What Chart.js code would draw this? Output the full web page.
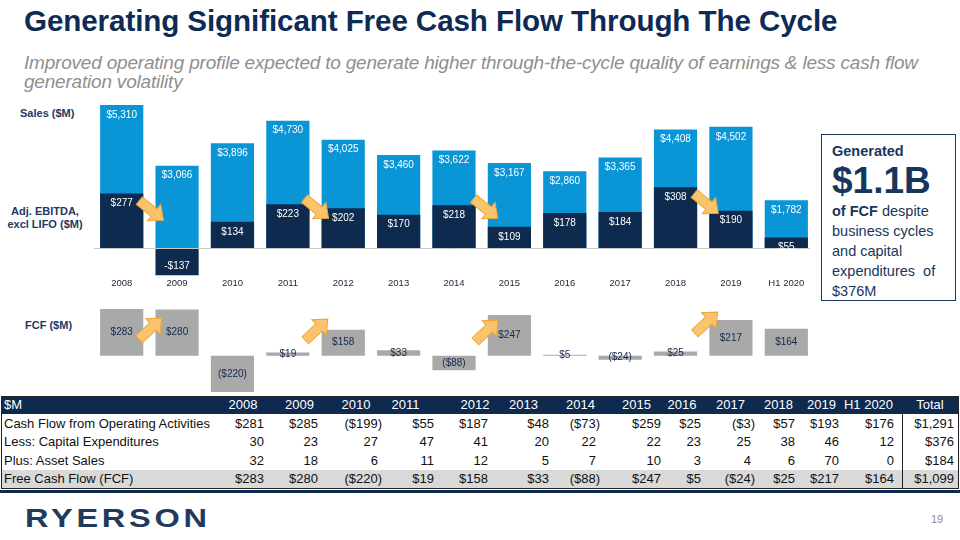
<!DOCTYPE html>
<html>
<head>
<meta charset="utf-8">
<script src="https://cdn.jsdelivr.net/npm/chart.js@4"></script>
<style>
  body { margin: 0; width: 960px; height: 540px; position: relative; background: #fff; font-family: Arial, 'Liberation Sans', sans-serif; overflow: hidden; }
  .abs { position: absolute; }
  #title { left: 24px; top: 4px; font-size: 29.6px; font-weight: bold; color: #0d2b55; white-space: nowrap; letter-spacing: -0.1px; }
  #sub { left: 24px; top: 53px; width: 935px; font-size: 19px; font-style: italic; color: #8f8f8f; line-height: 19px; letter-spacing: -0.2px; }
  .side { color: #1f3864; font-weight: bold; font-size: 11px; text-align: center; line-height: 13px; }
  #box { left: 821px; top: 134px; width: 133px; height: 165px; border: 1px solid #1f3864; color: #17365d; font-size: 14.5px; line-height: 20px; }
  #box div { padding-left: 10px; }
  #tbl { left: 1px; top: 396px; width: 956px; height: 91px; border: 1px solid #222; }
  .cell { position: absolute; font-size: 13px; color: #111; white-space: nowrap; line-height: 18px; }
  #logo { left: 25px; top: 503px; font-size: 26px; font-weight: bold; color: #1f3a5c; letter-spacing: 3px; transform: scaleX(1.25); transform-origin: left top; }
</style>
</head>
<body>
<div class="abs" id="title">Generating Significant Free Cash Flow Through The Cycle</div>
<div class="abs" id="sub">Improved operating profile expected to generate higher through-the-cycle quality of earnings &amp; less cash flow generation volatility</div>

<div class="abs side" style="left:20px; top:107px;">Sales ($M)</div>
<div class="abs side" style="left:4px; top:205px; width:82px;">Adj. EBITDA,<br>excl LIFO ($M)</div>
<div class="abs side" style="left:25px; top:319px;">FCF ($M)</div>

<canvas class="abs" id="top" width="720" height="191" style="left:94px; top:100px;"></canvas>
<canvas class="abs" id="fcf" width="720" height="95" style="left:94px; top:300px;"></canvas>

<div class="abs" id="box">
  <div style="font-weight:bold; margin-top:6px;">Generated</div>
  <div style="font-weight:bold; font-size:37px; line-height:40px;">$1.1B</div>
  <div><b>of FCF</b> despite business cycles and capital expenditures&nbsp; of $376M</div>
</div>

<div class="abs" id="tbl"></div>
<div class="abs" style="left:0; top:490px; width:960px; height:3px; background:#0e2a4f;"></div>
<div class="abs" id="logo">RYERSON</div>
<div class="abs" style="left:931px; top:513px; font-size:11px; color:#8c8c8c;">19</div>

<script>
const years = ['2008', '2009', '2010', '2011', '2012', '2013', '2014', '2015', '2016', '2017', '2018', '2019', 'H1 2020']
const sales = [5310, 3066, 3896, 4730, 4025, 3460, 3622, 3167, 2860, 3365, 4408, 4502, 1782]
const ebitda = [277, -137, 134, 223, 202, 170, 218, 109, 178, 184, 308, 190, 55]
const fcf = [283, 280, -220, 19, 158, 33, -88, 247, 5, -24, 25, 217, 164]
const cfo = [281, 285, -199, 55, 187, 48, -73, 259, 25, -3, 57, 193, 176]
const capex = [30, 23, 27, 47, 41, 20, 22, 22, 23, 25, 38, 46, 12]
const assetSales = [32, 18, 6, 11, 12, 5, 7, 10, 3, 4, 6, 70, 0]
const rowLabels = ['Cash Flow from Operating Activities', 'Less: Capital Expenditures', 'Plus: Asset Sales', 'Free Cash Flow (FCF)']
const totals = ['$1,291', '$376', '$184', '$1,099']

const money = (v) => (v < 0 ? '($' + Math.abs(v).toLocaleString('en-US') + ')' : '$' + v.toLocaleString('en-US'))

function drawArrow(ctx, cx, cy, angle) {
  const L = 31, h = 12, w = 4.8, H = 10.5
  ctx.save()
  ctx.translate(cx, cy)
  ctx.rotate(angle)
  ctx.beginPath()
  ctx.moveTo(-L / 2, -w)
  ctx.lineTo(L / 2 - h, -w)
  ctx.lineTo(L / 2 - h, -H)
  ctx.lineTo(L / 2, 0)
  ctx.lineTo(L / 2 - h, H)
  ctx.lineTo(L / 2 - h, w)
  ctx.lineTo(-L / 2, w)
  ctx.closePath()
  ctx.fillStyle = '#f9c46b'
  ctx.fill()
  ctx.strokeStyle = '#eea738'
  ctx.lineWidth = 1
  ctx.stroke()
  ctx.restore()
}

// bar labels, zero line and the orange arrows
const decorate = {
  id: 'decorate',
  afterDatasetsDraw(chart, args, opts) {
    const ctx = chart.ctx
    const x = chart.scales.x
    const zeroY = chart.scales[opts.zeroAxis].getPixelForValue(0)
    if (opts.zeroLine) {
      ctx.save()
      ctx.strokeStyle = '#c9c9c9'
      ctx.lineWidth = 1
      ctx.beginPath()
      ctx.moveTo(chart.chartArea.left - 4, Math.round(zeroY) + 0.5)
      ctx.lineTo(chart.chartArea.right - 4, Math.round(zeroY) + 0.5)
      ctx.stroke()
      ctx.restore()
    }
    ctx.save()
    ctx.font = '10px Arial'
    ctx.textAlign = 'center'
    ctx.textBaseline = 'middle'
    chart.data.datasets.forEach((ds, di) => {
      const meta = chart.getDatasetMeta(di)
      meta.data.forEach((bar, i) => {
        const v = ds.data[i]
        let y
        if (opts.mode === 'center') y = (bar.y + bar.base) / 2
        else y = v >= 0 ? bar.y + 10 : bar.y - 9
        ctx.fillStyle = opts.color
        const txt = opts.mode === 'center' ? money(v) : (v < 0 ? '-$' + Math.abs(v) : money(v))
        ctx.fillText(txt, bar.x, y)
      })
    })
    ctx.restore()
    opts.arrows.forEach((a) => {
      const cx = (x.getPixelForValue(a.i) + x.getPixelForValue(a.i + 1)) / 2 + a.dx
      drawArrow(ctx, cx, zeroY + a.dy, opts.angle)
    })
  },
}

const barBase = { grouped: false, barPercentage: 0.78, categoryPercentage: 1 }

new Chart(document.getElementById('top'), {
  type: 'bar',
  data: {
    labels: years,
    datasets: [
      { ...barBase, label: 'Adj. EBITDA', data: ebitda, yAxisID: 'y2', backgroundColor: '#0e2a4f', order: 0 },
      { ...barBase, label: 'Sales', data: sales, yAxisID: 'y', backgroundColor: '#0a96d6', order: 1 },
    ],
  },
  plugins: [decorate],
  options: {
    responsive: false,
    animation: false,
    layout: { padding: 0 },
    plugins: {
      legend: { display: false },
      tooltip: { enabled: false },
      decorate: {
        zeroAxis: 'y', zeroLine: true, mode: 'top', color: '#ffffff', angle: 0.68,
        arrows: [{ i: 0, dx: 2, dy: -38 }, { i: 3, dx: 1, dy: -40 }, { i: 6, dx: 4, dy: -40 }, { i: 10, dx: 3, dy: -45 }],
      },
    },
    scales: {
      x: {
        grid: { display: false, drawTicks: false },
        border: { display: false },
        ticks: { padding: 2, color: '#1b2436', font: { family: 'Arial', size: 9.5 } },
      },
      y: { display: false, min: -1005, max: 5496 },
      y2: { display: false, min: -137.5, max: 749 },
    },
  },
})

new Chart(document.getElementById('fcf'), {
  type: 'bar',
  data: {
    labels: years,
    datasets: [{ ...barBase, label: 'FCF', data: fcf, backgroundColor: '#a9a9a9' }],
  },
  plugins: [decorate],
  options: {
    responsive: false,
    animation: false,
    layout: { padding: 0 },
    plugins: {
      legend: { display: false },
      tooltip: { enabled: false },
      decorate: {
        zeroAxis: 'y', zeroLine: false, mode: 'center', color: '#13294b', angle: -0.75,
        arrows: [{ i: 0, dx: 1, dy: -27 }, { i: 3, dx: 1, dy: -26 }, { i: 6, dx: 5, dy: -25 }, { i: 10, dx: 3, dy: -33 }],
      },
    },
    scales: {
      x: { display: false },
      y: { display: false, min: -238.2, max: 337.6 },
    },
  },
})

// table
const tbl = document.getElementById('tbl')
const hdrX = [242, 298.5, 355, 404.5, 474, 522.5, 579.5, 635.5, 681, 729.5, 777.5, 820.5, 867.5]
const valR = [267, 321, 381, 437, 491, 552, 599, 664, 704, 754, 798, 842, 897]
const rowTop = [0, 17.5, 36, 54.5, 73]

function cell(text, style) {
  const d = document.createElement('div')
  d.className = 'cell'
  d.textContent = text
  Object.assign(d.style, style)
  tbl.appendChild(d)
  return d
}

const band = (top, h, bg) => {
  const d = document.createElement('div')
  Object.assign(d.style, { position: 'absolute', left: '0', width: '956px', top: top + 'px', height: h + 'px', background: bg })
  tbl.appendChild(d)
}
band(0, 17, '#0e2a4f')
band(73, 18, '#d9d9d9')
const sep = document.createElement('div')
Object.assign(sep.style, { position: 'absolute', left: '900px', top: '17px', width: '1px', height: '74px', background: '#222' })
tbl.appendChild(sep)

cell('$M', { left: '2px', top: '-1px', color: '#fff' })
years.forEach((yr, i) => {
  cell(yr, { top: '-1px', color: '#fff', left: hdrX[i] - 1 + 'px', transform: 'translateX(-50%)' })
})
cell('Total', { top: '-1px', color: '#fff', left: '928px', transform: 'translateX(-50%)' })

const rows = [cfo.map(money), capex.map(String), assetSales.map(String), fcf.map(money)]
rows.forEach((vals, r) => {
  const top = rowTop[r + 1] + 'px'
  cell(rowLabels[r], { left: '2px', top })
  vals.forEach((t, i) => {
    const pad = t.endsWith(')') ? 0 : 4
    cell(t, { top, right: 956 - (valR[i] - 1) + pad + 'px' })
  })
  cell(totals[r], { top, right: '4px' })
})
</script>
</body>
</html>
